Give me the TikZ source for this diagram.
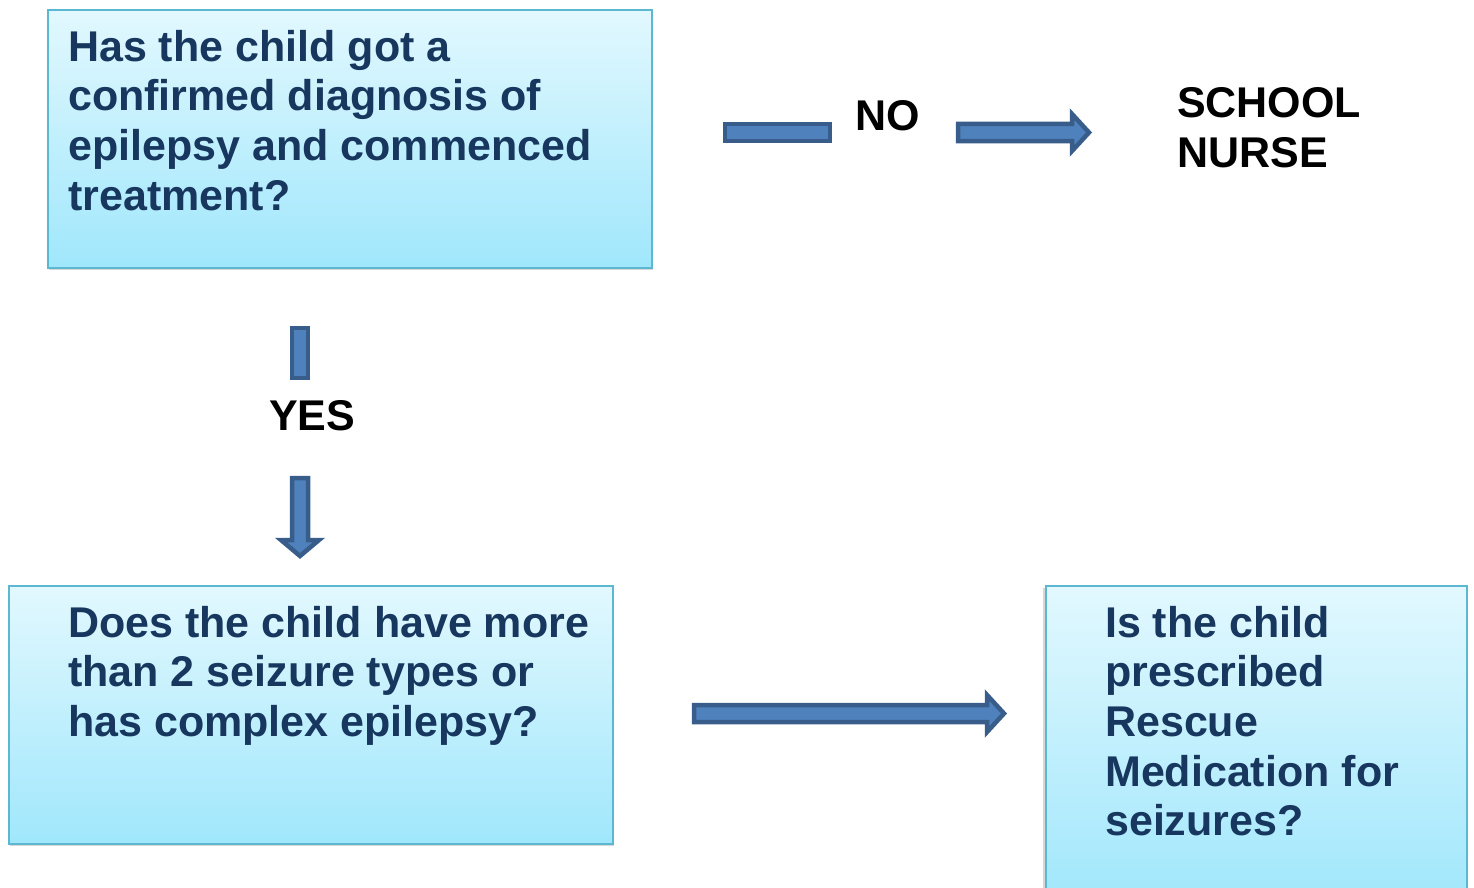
\documentclass[tikz,border=0pt]{standalone}
\usepackage{fontspec}
\setmainfont{Liberation Sans}
\definecolor{txt}{HTML}{17375E}
\definecolor{boxline}{HTML}{5BB8D0}
\definecolor{boxtop}{HTML}{E2F8FE}
\definecolor{boxbot}{HTML}{A0E7FC}
\definecolor{arrfill}{HTML}{4F81BD}
\definecolor{arrline}{HTML}{385D8A}
\tikzset{
  qbox/.style={draw=boxline, line width=1.6pt, top color=boxtop, bottom color=boxbot, inner sep=0pt, anchor=north west},
  shadowbox/.style={fill=black!45, opacity=0.35, inner sep=0pt, anchor=north west},
  qtext/.style={text=txt, font=\fontsize{43}{49.6}\selectfont\bfseries, align=left, anchor=north west, inner sep=0pt},
  lbl/.style={text=black, font=\fontsize{43}{50}\selectfont\bfseries, align=left, inner sep=0pt},
  blockarrow/.style={fill=arrfill, draw=arrline, line width=4.5pt, line join=miter}
}
\begin{document}
\begin{tikzpicture}[x=1pt,y=-1pt]
\useasboundingbox (0,0) rectangle (1474,888);
\clip (0,0) rectangle (1474,888);
% shadows
\node[shadowbox, minimum width=604pt, minimum height=258pt] (s1) at (49,12) {};
\node[shadowbox, minimum width=604pt, minimum height=258pt] (s2) at (10,588) {};
\node[shadowbox, minimum width=421pt, minimum height=320pt] (s3) at (1043,588) {};
% boxes
\node[qbox, minimum width=604pt, minimum height=258pt] (box1) at (47,9) {};
\node[qbox, minimum width=604pt, minimum height=258pt] (box2) at (8,585) {};
\node[qbox, minimum width=421pt, minimum height=320pt] (box3) at (1045,585) {};
% texts
\node[qtext] (t1) at (68,30) {Has the child got a\\confirmed diagnosis of\\epilepsy and commenced\\treatment?};
\node[qtext] (t2) at (68,606) {Does the child have more\\than 2 seizure types or\\has complex epilepsy?};
\node[qtext] (t3) at (1105,606) {Is the child\\prescribed\\Rescue\\Medication for\\seizures?};
% labels
\node[lbl, anchor=base west] (no) at (855,131) {NO};
\node[lbl, anchor=base west] (nurse) at (1177,167) {SCHOOL\\NURSE};
\node[lbl, anchor=base west] (yes) at (269,430) {YES};
% NO arrow (split around label)
\draw[blockarrow] (725,124) rectangle (830,141);
\draw[blockarrow] (958,124) -- (1072,124) -- (1072,114) -- (1089,132.5) -- (1072,151) -- (1072,141) -- (958,141) -- cycle;
% YES arrow (split around label)
\draw[blockarrow] (292,328) rectangle (308,378);
\draw[blockarrow] (292,478) -- (292,540) -- (281,540) -- (300,556) -- (319,540) -- (308,540) -- (308,478) -- cycle;
% bottom arrow
\draw[blockarrow] (694,705) -- (987,705) -- (987,695) -- (1004,713.5) -- (987,732) -- (987,722) -- (694,722) -- cycle;
\end{tikzpicture}
\end{document}
